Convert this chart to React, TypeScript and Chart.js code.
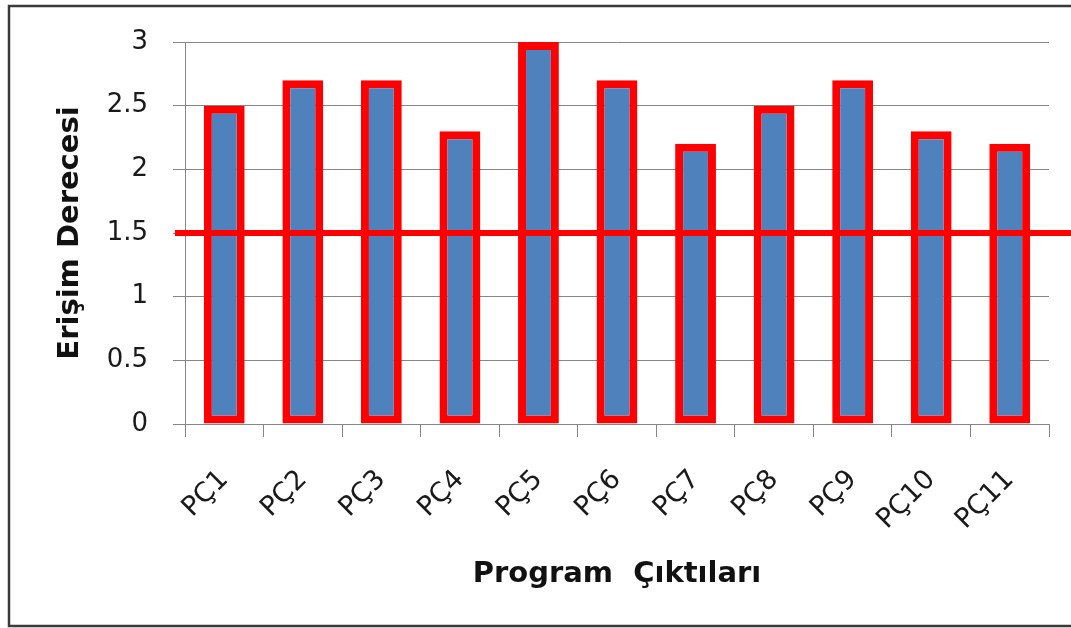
import React, { useEffect, useRef } from "react";
import { Chart, registerables } from "chart.js";

Chart.register(...registerables);

const CATEGORIES = ["PÇ1", "PÇ2", "PÇ3", "PÇ4", "PÇ5", "PÇ6", "PÇ7", "PÇ8", "PÇ9", "PÇ10", "PÇ11"];
const VALUES = [2.5, 2.7, 2.7, 2.3, 3.0, 2.7, 2.2, 2.5, 2.7, 2.3, 2.2];
const THRESHOLD = 1.5;
const Y_MIN = 0;
const Y_MAX = 3;
const Y_STEP = 0.5;
const X_TITLE = "Program  Çıktıları";
const Y_TITLE = "Erişim Derecesi";

const W = 1071;
const H = 628;

const framePlugin = {
  id: "frame",
  beforeDraw(chart: any) {
    const ctx = chart.ctx;
    ctx.save();
    ctx.fillStyle = "#ffffff";
    ctx.fillRect(0, 0, chart.width, chart.height);
    ctx.strokeStyle = "#3a3a3a";
    ctx.lineWidth = 2.5;
    ctx.beginPath();
    ctx.moveTo(chart.width + 5, 6);
    ctx.lineTo(9, 6);
    ctx.lineTo(9, 626);
    ctx.lineTo(chart.width + 5, 626);
    ctx.stroke();
    ctx.restore();
  },
};

const thresholdPlugin = {
  id: "threshold",
  afterDatasetsDraw(chart: any) {
    const ctx = chart.ctx;
    const y = chart.scales.y.getPixelForValue(THRESHOLD);
    ctx.save();
    ctx.strokeStyle = "#ff0000";
    ctx.lineWidth = 6;
    ctx.beginPath();
    ctx.moveTo(chart.chartArea.left - 10, y);
    ctx.lineTo(chart.width, y);
    ctx.stroke();
    ctx.restore();
  },
};

export default function App() {
  const ref = useRef<HTMLCanvasElement>(null);

  useEffect(() => {
    if (!ref.current) return;
    const chart = new Chart(ref.current, {
      type: "bar",
      data: {
        labels: CATEGORIES,
        datasets: [
          {
            data: VALUES,
            backgroundColor: "#4f81bd",
            borderColor: "#ff0000",
            borderWidth: 8,
            borderSkipped: false,
            barPercentage: 0.52,
            categoryPercentage: 1,
          },
        ],
      },
      options: {
        responsive: false,
        animation: false,
        devicePixelRatio: 1,
        layout: { padding: { left: 40, top: 42, right: 22, bottom: 30 } },
        plugins: { legend: { display: false }, tooltip: { enabled: false } },
        scales: {
          x: {
            afterFit: (s: any) => {
              s.height = H - 30 - 424;
            },
            grid: {
              offset: true,
              drawOnChartArea: false,
              drawTicks: true,
              tickLength: 13,
              color: "#868686",
            },
            border: { display: true, color: "#868686", width: 1 },
            ticks: {
              font: { family: "DejaVu Sans", size: 27 },
              color: "#1a1a1a",
              minRotation: 45,
              maxRotation: 45,
              padding: 27,
            },
            title: {
              display: true,
              text: X_TITLE,
              font: { family: "DejaVu Sans", size: 29, weight: "bold" },
              color: "#111",
              padding: { top: 0, bottom: 6 },
            },
          },
          y: {
            min: Y_MIN,
            max: Y_MAX,
            afterFit: (s: any) => {
              s.width = 185 - 40;
            },
            grid: {
              color: "#868686",
              tickLength: 12,
              drawTicks: true,
            },
            border: { display: true, color: "#868686", width: 1 },
            ticks: {
              stepSize: Y_STEP,
              font: { family: "DejaVu Sans", size: 26 },
              color: "#1a1a1a",
              padding: 25,
              callback: (v: any) => String(v),
            },
            title: {
              display: true,
              text: Y_TITLE,
              font: { family: "DejaVu Sans", size: 29, weight: "bold" },
              color: "#111",
              padding: { top: 13, bottom: 0 },
            },
          },
        },
      },
      plugins: [framePlugin, thresholdPlugin],
    });
    return () => chart.destroy();
  }, []);

  return (
    <div style={{ position: "fixed", left: 0, top: 0, width: W, height: H, background: "#fff" }}>
      <canvas ref={ref} width={W} height={H} style={{ width: W, height: H, display: "block" }} />
    </div>
  );
}
